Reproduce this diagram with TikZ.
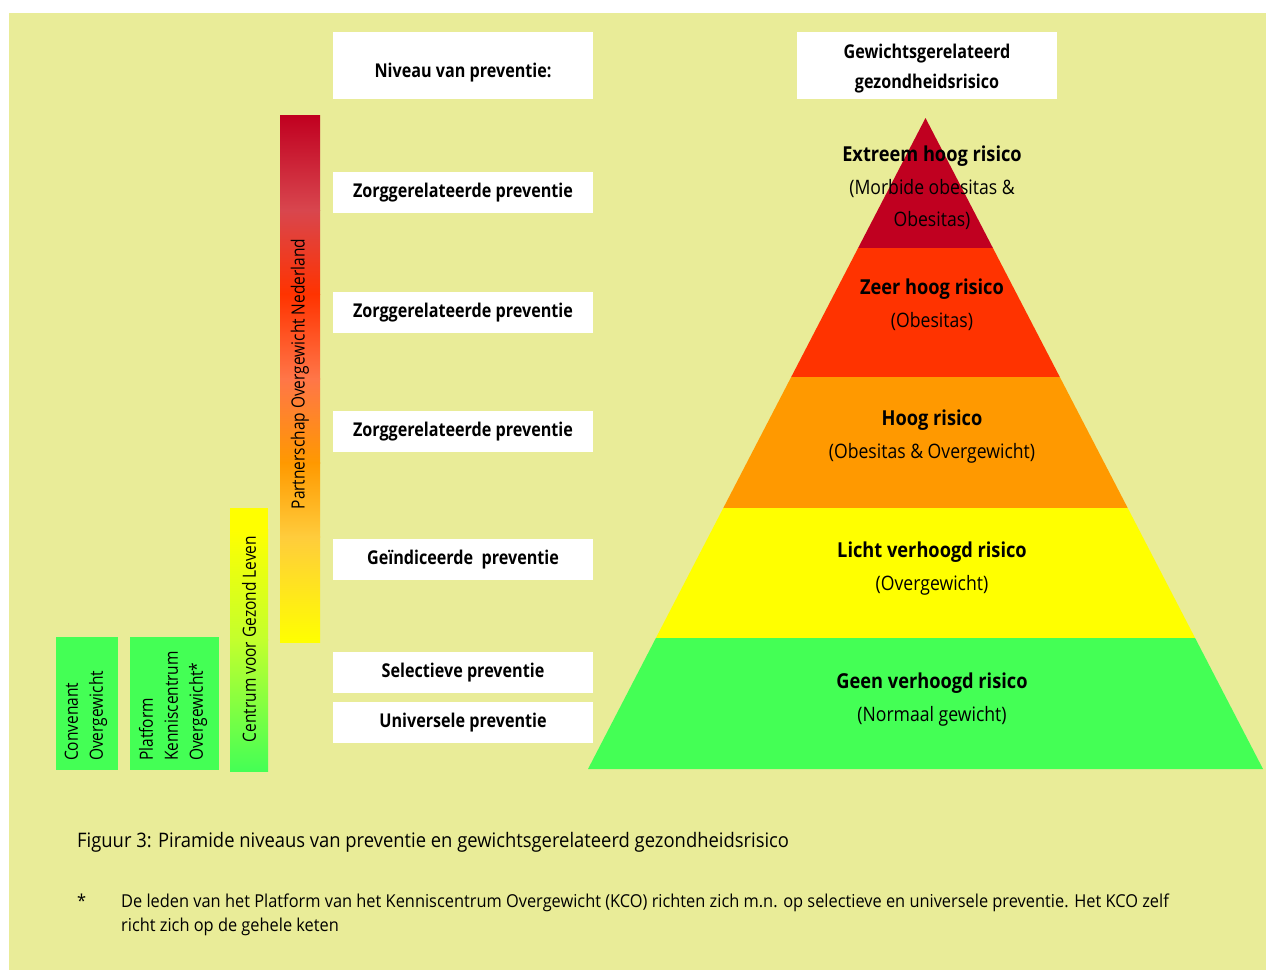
\documentclass[tikz,border=0pt]{standalone}
\usepackage{fontspec}
\setmainfont{Open Sans}[FakeStretch=0.85]
\newfontfamily\pyrfont{Open Sans}[FakeStretch=0.885]
\newfontfamily\capfont{Open Sans}[FakeStretch=0.92]
\definecolor{bg}{RGB}{233,236,152}
\definecolor{pred}{RGB}{192,0,32}
\definecolor{pred2}{RGB}{255,51,0}
\definecolor{porange}{RGB}{255,153,0}
\definecolor{pyellow}{RGB}{255,255,0}
\definecolor{pgreen}{RGB}{68,255,85}
\definecolor{ga}{RGB}{192,0,32}
\definecolor{gb}{RGB}{216,70,78}
\definecolor{gc}{RGB}{255,51,0}
\definecolor{gd}{RGB}{255,118,72}
\definecolor{ge}{RGB}{255,153,0}
\definecolor{gf}{RGB}{255,204,60}
\definecolor{gg}{RGB}{255,255,0}
\definecolor{ha}{RGB}{255,255,0}
\definecolor{hb}{RGB}{195,255,45}
\definecolor{hc}{RGB}{68,255,85}
\begin{document}
\begin{tikzpicture}[x=1pt,y=-1pt,
  lbl/.style={fill=white, minimum width=260, minimum height=41, inner sep=0pt,
    font=\bfseries\fontsize{19}{22}\selectfont, text height=14, text depth=4.5},
  hdr/.style={fill=white, minimum width=260, minimum height=67, inner sep=0pt},
  hdrtext/.style={font=\bfseries\fontsize{19}{22}\selectfont, anchor=base},
  pb/.style={font=\pyrfont\bfseries\fontsize{20.6}{24}\selectfont, anchor=base},
  pr/.style={font=\pyrfont\fontsize{19.9}{24}\selectfont, anchor=base},
  rot/.style={font=\fontsize{18.2}{25}\selectfont, rotate=90, inner sep=0pt},
  gbox/.style={fill=pgreen, draw=none},
  captxt/.style={font=\capfont\fontsize{20}{24}\selectfont, anchor=base west, inner sep=0pt},
  foot/.style={font=\capfont\fontsize{17.8}{24}\selectfont, anchor=base west, inner sep=0pt},
]
\useasboundingbox (0,0) rectangle (1266,970);
\fill[bg] (9,13) rectangle (1266,970);

% header boxes
\node[hdr, anchor=north west] (niveau) at (333,32) {};
\node[hdrtext] (niveautxt) at (463,77) {Niveau van preventie:};
\node[hdr, anchor=north west] (gewicht) at (797,32) {};
\node[hdrtext] (gew1) at (927,58) {Gewichtsgerelateerd};
\node[hdrtext] (gew2) at (927,88) {gezondheidsrisico};

% level boxes
\node[lbl] (z1) at (463,192.5) {Zorggerelateerde preventie};
\node[lbl] (z2) at (463,312.5) {Zorggerelateerde preventie};
\node[lbl] (z3) at (463,431.5) {Zorggerelateerde preventie};
\node[lbl] (gi) at (463,559.5) {Geïndiceerde\ \ preventie};
\node[lbl] (se) at (463,672.5) {Selectieve preventie};
\node[lbl] (un) at (463,722.5) {Universele preventie};

% Partnerschap gradient bar
\fill[top color=ga, bottom color=gb] (280,115) rectangle (320,210.5);
\fill[top color=gb, bottom color=gc] (280,210) rectangle (320,294.5);
\fill[top color=gc, bottom color=gd] (280,294) rectangle (320,379);
\fill[top color=gd, bottom color=ge] (280,378.5) rectangle (320,463.3);
\fill[top color=ge, bottom color=gf] (280,462.8) rectangle (320,537);
\fill[top color=gf, bottom color=gg] (280,536.6) rectangle (320,642);
\node[rot] (pon) at (300,374) {Partnerschap Overgewicht Nederland};

% Centrum bar
\fill[ha] (230,508) rectangle (268,529.5);
\fill[top color=ha, bottom color=hb] (230,529) rectangle (268,640);
\fill[top color=hb, bottom color=hc] (230,639.5) rectangle (268,771);
\node[rot] (cgl) at (249,639) {Centrum voor Gezond Leven};

% green boxes
\fill[gbox] (56,637) rectangle (118,770);
\node[rot, anchor=west, align=left] (conv) at (86,761) {Convenant\\Overgewicht};
\fill[gbox] (130,637) rectangle (219,770);
\node[rot, anchor=west, align=left] (plat) at (173,761) {Platform\\Kenniscentrum\\Overgewicht*};

% pyramid
\coordinate (apex) at (925.5,118);
\coordinate (l1) at (858.1,248);  \coordinate (r1) at (992.9,248);
\coordinate (l2) at (791.2,377);  \coordinate (r2) at (1059.8,377);
\coordinate (l3) at (723.3,508);  \coordinate (r3) at (1127.7,508);
\coordinate (l4) at (655.9,638);  \coordinate (r4) at (1195.1,638);
\coordinate (l5) at (588,769);    \coordinate (r5) at (1263,769);
\fill[pred] (apex) -- (r1) -- (l1) -- cycle;
\fill[pred2] (l1) -- (r1) -- (r2) -- (l2) -- cycle;
\fill[porange] (l2) -- (r2) -- (r3) -- (l3) -- cycle;
\fill[pyellow] (l3) -- (r3) -- (r4) -- (l4) -- cycle;
\fill[pgreen] (l4) -- (r4) -- (r5) -- (l5) -- cycle;

\node[pb] (t1) at (932,161) {Extreem hoog risico};
\node[pr] (t1b) at (932,194) {(Morbide obesitas \&};
\node[pr] (t1c) at (932,226) {Obesitas)};
\node[pb] (t2) at (932,294) {Zeer hoog risico};
\node[pr] (t2b) at (932,327) {(Obesitas)};
\node[pb] (t3) at (932,425) {Hoog risico};
\node[pr] (t3b) at (932,458) {(Obesitas \& Overgewicht)};
\node[pb] (t4) at (932,557) {Licht verhoogd risico};
\node[pr] (t4b) at (932,590) {(Overgewicht)};
\node[pb] (t5) at (932,688) {Geen verhoogd risico};
\node[pr] (t5b) at (932,721) {(Normaal gewicht)};

% caption
\node[captxt] (caption) at (77,847) {Figuur 3: Piramide niveaus van preventie en gewichtsgerelateerd gezondheidsrisico};
\node[foot] (star) at (77,907) {*};
\node[foot] (note1) at (121,907) {De leden van het Platform van het Kenniscentrum Overgewicht (KCO) richten zich m.n. op selectieve en universele preventie. Het KCO zelf};
\node[foot] (note2) at (121,931) {richt zich op de gehele keten};
\end{tikzpicture}
\end{document}
